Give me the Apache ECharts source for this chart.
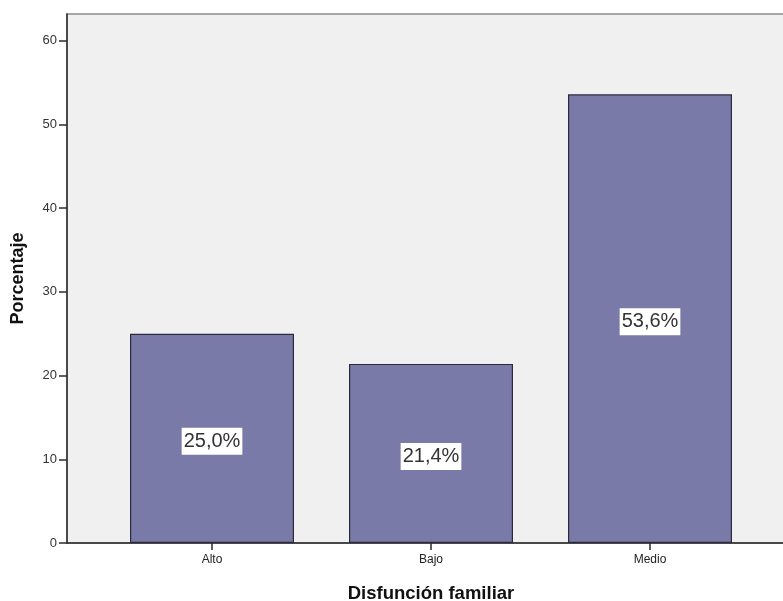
<!DOCTYPE html>
<html>
<head>
<meta charset="utf-8">
<script src="https://cdn.jsdelivr.net/npm/echarts@6/dist/echarts.min.js"></script>
<style>
html,body{margin:0;padding:0;background:#fff;}
#c{width:783px;height:601px;}
</style>
</head>
<body>
<div id="c"></div>
<script>
var categories = ['Alto', 'Bajo', 'Medio'];
var values = [25.0, 21.4, 53.6];
var yTicks = [0, 10, 20, 30, 40, 50, 60];
var xTitle = 'Disfunción familiar';
var yTitle = 'Porcentaje';

var chart = echarts.init(document.getElementById('c'), null, {renderer: 'canvas'});
var font = 'Arial, "Liberation Sans", sans-serif';
var yMax = 63.2;
var option = {
  backgroundColor: '#ffffff',
  animation: false,
  grid: [
    {left: 67, top: 14, right: -2, bottom: 58, show: true, backgroundColor: '#f0f0f0', borderColor: '#8a8a8a', borderWidth: 1.5, containLabel: false, outerBoundsMode: 'none'},
    {left: 102.5, top: 14, width: 657, bottom: 58, containLabel: false, outerBoundsMode: 'none'}
  ],
  xAxis: [
    {gridIndex: 0, type: 'category', data: [''], axisLine: {show: true, lineStyle: {color: '#2b2b2b', width: 1.5}}, axisTick: {show: false}, axisLabel: {show: false}},
    {gridIndex: 1, type: 'category', data: categories,
     name: xTitle, nameLocation: 'middle', nameGap: 41,
     nameTextStyle: {fontFamily: font, fontSize: 18.5, fontWeight: 'bold', color: '#111'},
     axisLine: {show: false},
     axisTick: {show: true, alignWithLabel: true, length: 7, lineStyle: {color: '#2b2b2b', width: 1.5}},
     axisLabel: {fontFamily: font, fontSize: 12, color: '#222', margin: 11}}
  ],
  yAxis: [
    {gridIndex: 0, type: 'value', min: 0, max: yMax, interval: 10,
     name: yTitle, nameLocation: 'middle', nameGap: 40,
     nameTextStyle: {fontFamily: font, fontSize: 18, fontWeight: 'bold', color: '#111'},
     axisLine: {show: true, lineStyle: {color: '#2b2b2b', width: 1.5}},
     axisTick: {show: true, length: 8, lineStyle: {color: '#2b2b2b', width: 1.5},
       customValues: yTicks},
     axisLabel: {fontFamily: font, fontSize: 13, color: '#333', margin: 10,
       customValues: yTicks},
     splitLine: {show: false}},
    {gridIndex: 1, type: 'value', min: 0, max: yMax, show: false, splitLine: {show: false}}
  ],
  series: [{
    type: 'bar',
    xAxisIndex: 1, yAxisIndex: 1,
    data: values,
    barWidth: 164,
    itemStyle: {color: '#7a7aa8', borderColor: '#2a2a3c', borderWidth: 1.2},
    label: {
      show: true, position: 'inside', offset: [0, 3],
      formatter: function (p) { return p.value.toFixed(1).replace('.', ',') + '%'; },
      fontFamily: font, fontSize: 20, color: '#333',
      backgroundColor: '#ffffff', padding: [4, 2, 3, 2]
    }
  }]
};
chart.setOption(option);
</script>
</body>
</html>
